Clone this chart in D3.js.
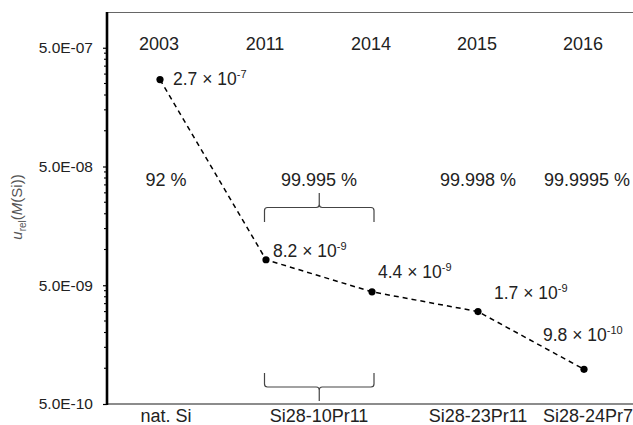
<!DOCTYPE html>
<html>
<head>
<meta charset="utf-8">
<script src="https://cdn.jsdelivr.net/npm/d3@7"></script>
<style>
  body { margin: 0; background: #fff; }
  svg { display: block; font-family: "Liberation Sans", Arial, sans-serif; }
</style>
</head>
<body>
<div id="chart"></div>
<script>
// data
const years = ["2003", "2011", "2014", "2015", "2016"];
const uncertainty = [2.7e-7, 8.2e-9, 4.4e-9, 3.0e-9, 9.8e-10];
const valueMantissa = ["2.7", "8.2", "4.4", "1.7", "9.8"];
const valueExponent = ["-7", "-9", "-9", "-9", "-10"];
const enrichment = ["92 %", "99.995 %", "99.998 %", "99.9995 %"];
const enrichmentSpan = [["2003", "2003"], ["2011", "2014"], ["2015", "2015"], ["2016", "2016"]];
const material = ["nat. Si", "Si28-10Pr11", "Si28-23Pr11", "Si28-24Pr7"];
const yMajorTicks = [5e-10, 5e-9, 5e-8, 5e-7];

const w = 633;
const h = 425;
const margin = { left: 107, top: 12, bottom: 404, right: 637 };

// label offsets (px) for the value annotations, relative to each point
const labelOffset = [[13, 5], [7, -3], [6, -14], [16, -13], [-41, -28]];
const enrichShift = [6, 0, 0, 3];
const materialShift = [6, 0, 0, 4];

const svg = d3.select("#chart").append("svg").attr("width", w).attr("height", h);

const xScale = d3.scalePoint().domain(years).range([margin.left, margin.right]).padding(0.5);
const yScale = d3.scaleLog().domain([5e-10, 1e-6]).range([margin.bottom, margin.top]);

// frame lines
svg.append("line")
  .attr("x1", margin.left).attr("x2", w)
  .attr("y1", margin.top + 0.5).attr("y2", margin.top + 0.5)
  .attr("stroke", "#666").attr("stroke-width", 1.2);
svg.append("line")
  .attr("x1", margin.left).attr("x2", w)
  .attr("y1", margin.bottom).attr("y2", margin.bottom)
  .attr("stroke", "#666").attr("stroke-width", 1.4);

// y axis with minor ticks
const minorTicks = [];
yMajorTicks.slice(0, 3).forEach((b) => {
  for (let k = 2; k <= 9; k++) minorTicks.push(b * k);
});

const fmt = (d) => {
  const e = Math.floor(Math.log10(d) + 1e-9);
  const m = d / Math.pow(10, e);
  return m.toFixed(1) + "E-" + String(-e).padStart(2, "0");
};

const yAxis = svg.append("g")
  .attr("transform", `translate(${margin.left},0)`)
  .call(d3.axisLeft(yScale).tickValues(yMajorTicks).tickFormat(fmt).tickSize(4).tickPadding(10));
yAxis.select(".domain").remove();
yAxis.selectAll(".tick line").attr("stroke", "#000").attr("stroke-width", 1.2);
yAxis.selectAll(".tick text")
  .attr("font-family", "Liberation Sans, Arial, sans-serif")
  .attr("font-size", 15.5).attr("fill", "#222");

svg.append("g")
  .selectAll("line")
  .data(minorTicks)
  .enter()
  .append("line")
  .attr("x1", margin.left - 3).attr("x2", margin.left)
  .attr("y1", (d) => yScale(d)).attr("y2", (d) => yScale(d))
  .attr("stroke", "#000").attr("stroke-width", 1.1);

svg.append("line")
  .attr("x1", margin.left).attr("x2", margin.left)
  .attr("y1", margin.top).attr("y2", margin.bottom + 1)
  .attr("stroke", "#000").attr("stroke-width", 2.6);

// y axis title
const yTitle = svg.append("text")
  .attr("transform", "translate(22,207) rotate(-90)")
  .attr("text-anchor", "middle")
  .attr("font-size", 15)
  .attr("fill", "#555");
yTitle.append("tspan").attr("font-style", "italic").text("u");
yTitle.append("tspan").attr("font-size", 10).attr("dy", 4).text("rel");
yTitle.append("tspan").attr("dy", -4).text("(");
yTitle.append("tspan").attr("font-style", "italic").text("M");
yTitle.append("tspan").text("(Si))");

// year labels
svg.append("g")
  .selectAll("text")
  .data(years)
  .enter()
  .append("text")
  .attr("x", (d) => xScale(d) - 1)
  .attr("y", 50)
  .attr("text-anchor", "middle")
  .attr("font-size", 18)
  .attr("fill", "#222")
  .text((d) => d);

const spanMid = (s) => (xScale(s[0]) + xScale(s[1])) / 2;

// enrichment labels
svg.append("g")
  .selectAll("text")
  .data(enrichment)
  .enter()
  .append("text")
  .attr("x", (d, i) => spanMid(enrichmentSpan[i]) + enrichShift[i])
  .attr("y", 186)
  .attr("text-anchor", "middle")
  .attr("font-size", 18)
  .attr("fill", "#222")
  .text((d) => d);

// material labels
svg.append("g")
  .selectAll("text")
  .data(material)
  .enter()
  .append("text")
  .attr("x", (d, i) => spanMid(enrichmentSpan[i]) + materialShift[i])
  .attr("y", 422)
  .attr("text-anchor", "middle")
  .attr("font-size", 18)
  .attr("fill", "#222")
  .text((d) => d);

// curly braces over the 2011-2014 span
function brace(x1, x2, yEnd, yBar, yTip) {
  const xm = (x1 + x2) / 2;
  const s = Math.sign(yEnd - yBar);
  const r = 3;
  return `M${x1},${yEnd} L${x1},${yBar + s * r} Q${x1},${yBar} ${x1 + r},${yBar}` +
    ` L${xm - r},${yBar} Q${xm},${yBar} ${xm},${yBar - s * r} L${xm},${yTip}` +
    ` M${xm},${yBar - s * r} Q${xm},${yBar} ${xm + r},${yBar}` +
    ` L${x2 - r},${yBar} Q${x2},${yBar} ${x2},${yBar + s * r} L${x2},${yEnd}`;
}
const bx1 = xScale("2011") - 1.5;
const bx2 = xScale("2014") + 2;
svg.append("path")
  .attr("d", brace(bx1, bx2, 222, 207.5, 193))
  .attr("fill", "none").attr("stroke", "#444").attr("stroke-width", 1.2);
svg.append("path")
  .attr("d", brace(bx1, bx2, 373, 387, 401))
  .attr("fill", "none").attr("stroke", "#444").attr("stroke-width", 1.2);

// dashed line and points
const line = d3.line()
  .x((d, i) => xScale(years[i]))
  .y((d) => yScale(d));

svg.append("path")
  .datum(uncertainty)
  .attr("d", line)
  .attr("fill", "none")
  .attr("stroke", "#000")
  .attr("stroke-width", 1.5)
  .attr("stroke-dasharray", "5,4");

svg.append("g")
  .selectAll("circle")
  .data(uncertainty)
  .enter()
  .append("circle")
  .attr("cx", (d, i) => xScale(years[i]))
  .attr("cy", (d) => yScale(d))
  .attr("r", 3.6)
  .attr("fill", "#000");

// value labels
const vl = svg.append("g")
  .selectAll("text")
  .data(uncertainty)
  .enter()
  .append("text")
  .attr("x", (d, i) => xScale(years[i]) + labelOffset[i][0])
  .attr("y", (d, i) => yScale(d) + labelOffset[i][1])
  .attr("font-size", 17.5)
  .attr("fill", "#222");
vl.append("tspan").text((d, i) => valueMantissa[i] + " \u00d7 10");
vl.append("tspan").attr("font-size", 11).attr("dy", -7).text((d, i) => valueExponent[i]);
</script>
</body>
</html>
